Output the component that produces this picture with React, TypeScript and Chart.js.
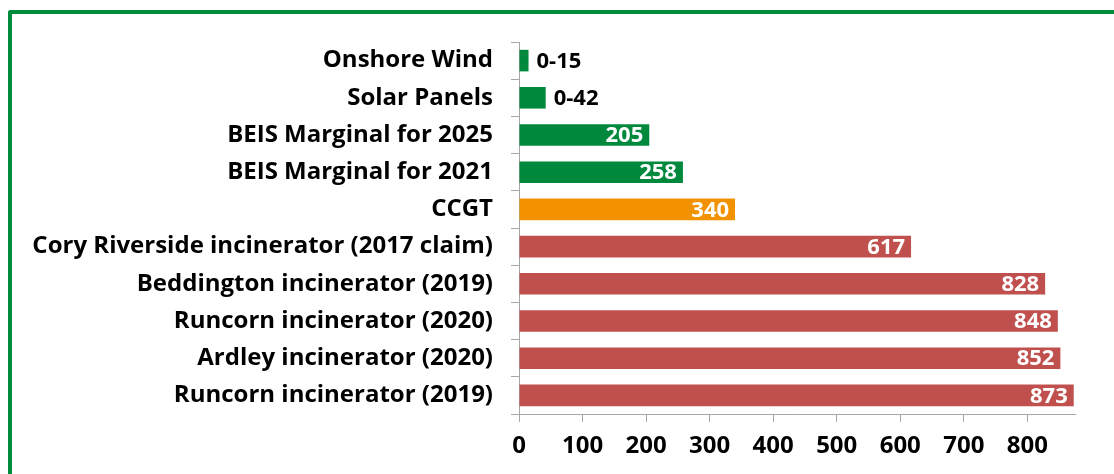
import React, { useEffect, useRef } from 'react';
import { Chart, registerables } from 'chart.js';

Chart.register(...registerables);

const categories = [
  'Onshore Wind',
  'Solar Panels',
  'BEIS Marginal for 2025',
  'BEIS Marginal for 2021',
  'CCGT',
  'Cory Riverside incinerator (2017 claim)',
  'Beddington incinerator (2019)',
  'Runcorn incinerator (2020)',
  'Ardley incinerator (2020)',
  'Runcorn incinerator (2019)',
];
const values = [15, 42, 205, 258, 340, 617, 828, 848, 852, 873];
const valueLabels = ['0-15', '0-42', '205', '258', '340', '617', '828', '848', '852', '873'];
const groups = ['low', 'low', 'low', 'low', 'gas', 'inc', 'inc', 'inc', 'inc', 'inc'];
const xTicks = [0, 100, 200, 300, 400, 500, 600, 700, 800];
const xMax = 875;

const groupColors: Record<string, string> = {
  low: '#00893D',
  gas: '#F39200',
  inc: '#C0504D',
};

const FONT = '"Open Sans"';

const valueLabelPlugin = {
  id: 'valueLabels',
  afterDatasetsDraw(chart: any) {
    const ctx = chart.ctx as CanvasRenderingContext2D;
    const meta = chart.getDatasetMeta(0);
    ctx.save();
    ctx.font = `bold 22px ${FONT}`;
    ctx.textBaseline = 'middle';
    meta.data.forEach((bar: any, i: number) => {
      const text = valueLabels[i];
      const w = ctx.measureText(text).width;
      const len = bar.x - bar.base;
      if (w + 12 < len) {
        ctx.fillStyle = '#ffffff';
        ctx.textAlign = 'right';
        ctx.fillText(text, bar.x - 6, bar.y + 1);
      } else {
        ctx.fillStyle = '#000000';
        ctx.textAlign = 'left';
        ctx.fillText(text, bar.x + 8, bar.y + 1);
      }
    });
    ctx.restore();
  },
};

export default function App() {
  const canvasRef = useRef<HTMLCanvasElement | null>(null);

  useEffect(() => {
    if (!canvasRef.current) return;
    const chart = new Chart(canvasRef.current, {
      type: 'bar',
      data: {
        labels: categories,
        datasets: [
          {
            data: values,
            backgroundColor: groups.map((g) => groupColors[g]),
            borderWidth: 0,
            barPercentage: 0.58,
            categoryPercentage: 1,
          },
        ],
      },
      options: {
        indexAxis: 'y',
        responsive: false,
        animation: false,
        layout: { padding: { left: 0, top: 42, right: 39, bottom: 0 } },
        plugins: {
          legend: { display: false },
          tooltip: { enabled: false },
        },
        scales: {
          x: {
            type: 'linear',
            min: 0,
            max: xMax,
            afterBuildTicks: (s: any) => {
              s.ticks = xTicks.map((v) => ({ value: v }));
            },
            afterFit: (s: any) => {
              s.height = 60;
            },
            grid: { drawOnChartArea: false, drawTicks: true, tickLength: 8, color: '#A6A6A6' },
            border: { display: true, color: '#A6A6A6', width: 1 },
            ticks: {
              font: { family: FONT, size: 24, weight: 'bold' },
              color: '#000000',
              padding: 10,
              maxRotation: 0,
              autoSkip: false,
            },
          },
          y: {
            type: 'category',
            afterFit: (s: any) => {
              s.width = 519;
            },
            grid: { drawOnChartArea: false, drawTicks: true, tickLength: 8, color: '#A6A6A6', offset: true },
            border: { display: true, color: '#A6A6A6', width: 1 },
            ticks: {
              font: { family: FONT, size: 24, weight: 'bold' },
              color: '#000000',
              padding: 18,
              autoSkip: false,
            },
          },
        },
      },
      plugins: [valueLabelPlugin],
    });
    return () => chart.destroy();
  }, []);

  return (
    <div
      style={{
        position: 'fixed',
        left: 0,
        top: 0,
        width: 1114,
        height: 474,
        overflow: 'hidden',
        background: '#ffffff',
      }}
    >
      <div
        style={{
          position: 'absolute',
          left: 8,
          top: 10,
          width: 1200,
          height: 600,
          borderTop: '4px solid #008C3C',
          borderLeft: '4px solid #008C3C',
          borderTopLeftRadius: 3,
          boxSizing: 'border-box',
        }}
      />
      <canvas
        ref={canvasRef}
        width={1114}
        height={474}
        style={{ position: 'absolute', left: 0, top: 0, width: 1114, height: 474 }}
      />
    </div>
  );
}
